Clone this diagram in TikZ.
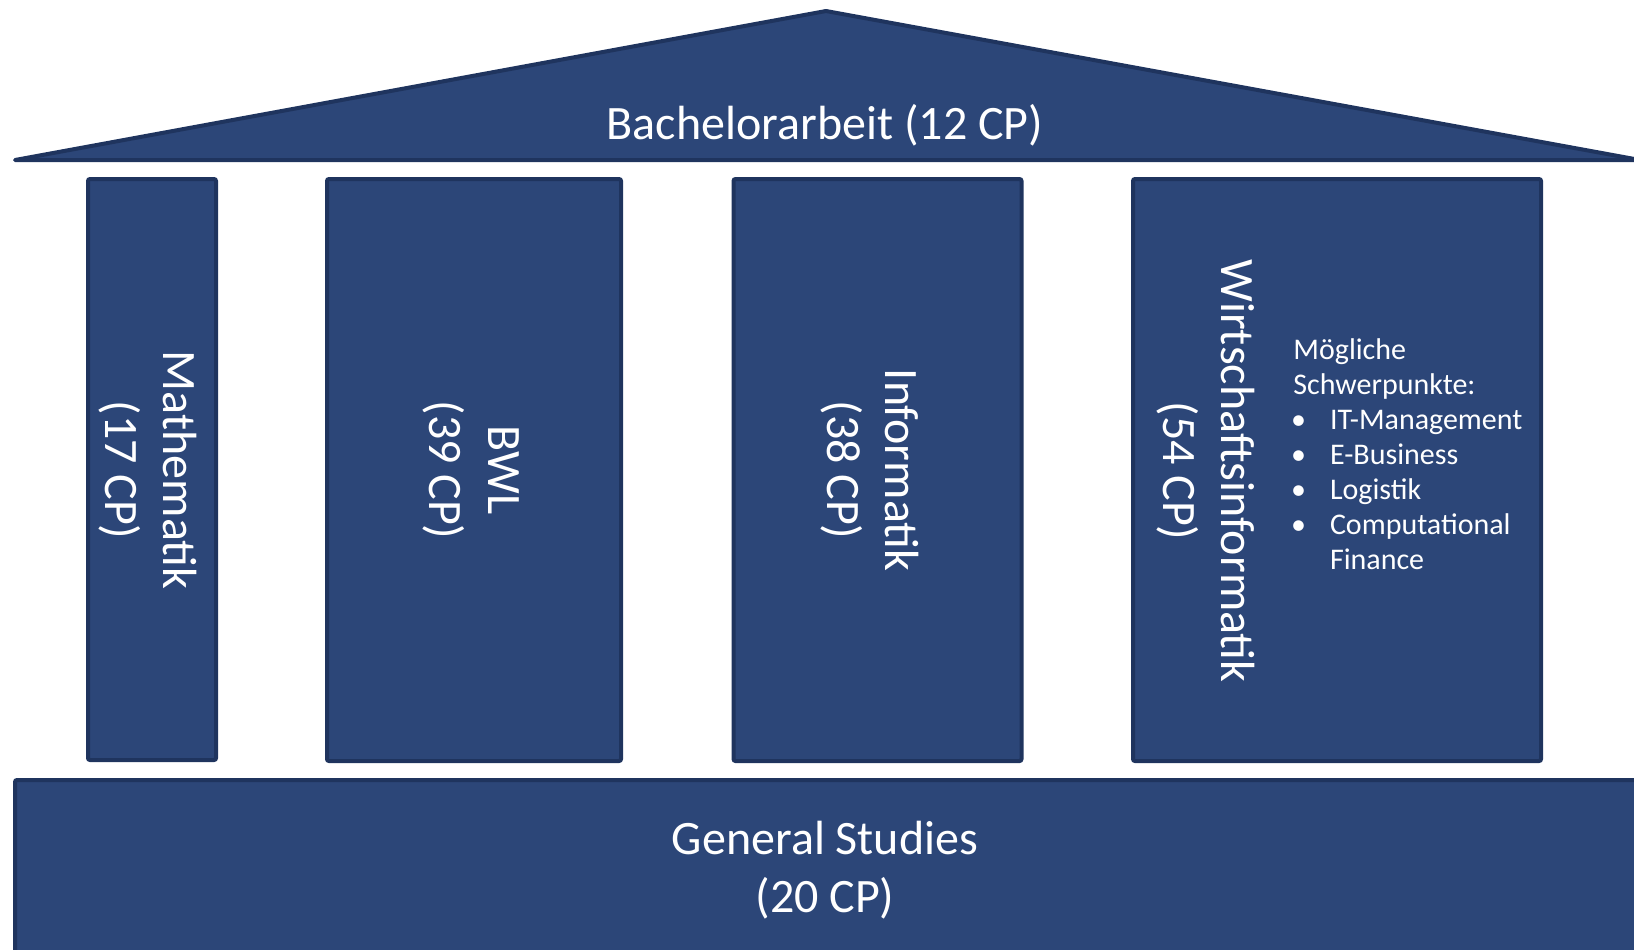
\documentclass[tikz,border=0pt]{standalone}
\usepackage{fontspec}
\setmainfont{Carlito}
\definecolor{myblue}{RGB}{44,70,120}
\definecolor{mydarkblue}{RGB}{31,52,94}
\newcommand{\listdot}{\makebox[18.3pt][l]{\hspace{-1.1pt}\textbullet}}
\tikzset{
  block/.style={draw=mydarkblue, fill=myblue, line width=2pt, rounded corners=1pt, inner sep=0pt},
  bigtext/.style={text=white, font=\fontsize{24}{29.2}\selectfont, align=center},
  smalltext/.style={text=white, font=\fontsize{15}{17.5}\selectfont, align=left, inner sep=0pt},
}

\begin{document}
\begin{tikzpicture}[x=0.5pt, y=-0.5pt]
    \useasboundingbox (0,0) rectangle (1634,949);
    \clip (0,0) rectangle (1634,949);
    % Dach
    \coordinate (roofl) at (15,160);
    \coordinate (roofm) at (826,11);
    \coordinate (roofr) at (1640,160);
    \draw[block, line join=round, rounded corners=0pt] (roofl) -- (roofm) -- (roofr) -- cycle;
    \node[bigtext] (thesis) at (825,125) {Bachelorarbeit (12 CP)};
    % Saeulen
    \node[block, minimum width=64pt, minimum height=290.5pt] (mathe) at (152,469.5) {};
    \node[block, minimum width=147pt, minimum height=291pt] (bwl) at (474,470) {};
    \node[block, minimum width=144pt, minimum height=291pt] (info) at (877.5,470) {};
    \node[block, minimum width=204pt, minimum height=291pt] (wi) at (1337,470) {};
    \node[bigtext, rotate=-90] (mathetext) at (148,470) {Mathematik\\(17 CP)};
    \node[bigtext, rotate=-90] (bwltext) at (471,470) {BWL\\(39 CP)};
    \node[bigtext, rotate=-90] (infotext) at (870,470) {Informatik\\(38 CP)};
    \node[bigtext, rotate=-90] (witext) at (1206,471) {Wirtschaftsinformatik\\(54 CP)};
    \node[smalltext, anchor=north west] (focus) at (1293,338) {Mögliche\\Schwerpunkte:\\\listdot IT-Management\\\listdot E-Business\\\listdot Logistik\\\listdot Computational\\\hspace*{18.3pt}Finance};
    % Fundament
    \draw[block] (15,780) rectangle (1700,1000);
    \node[bigtext] (general) at (825,870) {General Studies\\(20 CP)};
\end{tikzpicture}
\end{document}
